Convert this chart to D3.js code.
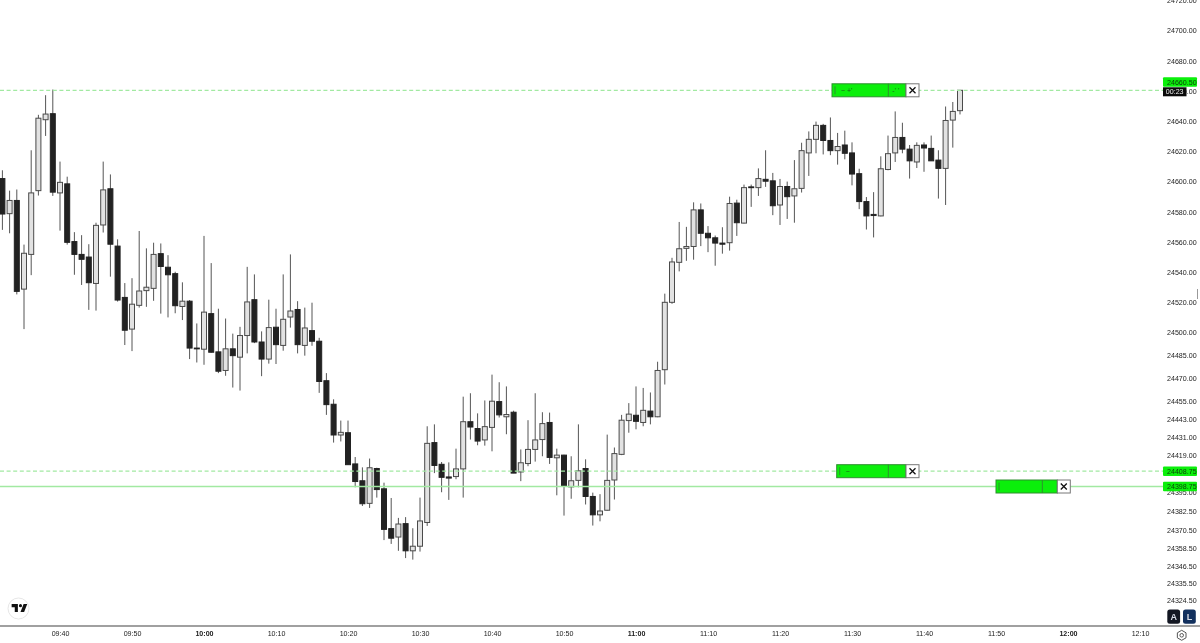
<!DOCTYPE html>
<html>
<head>
<meta charset="utf-8">
<title>Candles</title>
<script src="https://cdn.jsdelivr.net/npm/d3@7"></script>
<style>
    html, body { margin: 0; padding: 0; background: #fff; }
    /* the source is a soft screenshot */
    svg { display: block; filter: blur(0.3px); }
    text { font-family: "Liberation Sans", Arial, sans-serif; }
</style>
</head>
<body>
<div id="chart"></div>
<script>
// one minute candles, first one is 09:32
const firstCandle = "09:32";

const opens = [
    24602, 24578.75, 24587.5, 24528.75, 24551.75, 24594, 24641, 24645, 24592.5, 24598.5,
    24560.25, 24551.75, 24550, 24532.5, 24571.25, 24595.25, 24557.25, 24523.25, 24502.25, 24518,
    24527.75, 24529.25, 24552.25, 24543.25, 24539, 24517.25, 24520.75, 24489.75, 24489, 24512.5,
    24487.25, 24475, 24489.25, 24483.75, 24498, 24521.75, 24493.75, 24482.5, 24503.5, 24491.5,
    24510.25, 24515.25, 24491.5, 24501.25, 24494.25, 24468.25, 24452.75, 24432.5, 24434, 24413.5,
    24402.5, 24387.75, 24410.5, 24397.25, 24371.25, 24365.75, 24374.5, 24356.75, 24359.75, 24375.25,
    24427.5, 24413.25, 24405, 24405.25, 24410.25, 24441.25, 24436.75, 24429.25, 24437.5, 24454.5,
    24444.5, 24447.5, 24408.25, 24413.75, 24423, 24429.5, 24440.75, 24417.5, 24419.25, 24398.5,
    24402.75, 24410.5, 24392.25, 24380.25, 24383.25, 24403, 24419.75, 24442, 24445.5, 24440.75,
    24448.25, 24444.5, 24475.5, 24520, 24546.5, 24555.75, 24557, 24581.25, 24565.75, 24562.75,
    24559.25, 24559.5, 24585.75, 24572.5, 24596.5, 24596, 24601.5, 24600.5, 24584.5, 24596.75,
    24590.5, 24595.5, 24619, 24628, 24637.25, 24627.25, 24620.5, 24624.25, 24619, 24605.25,
    24586.75, 24578.25, 24577.25, 24608, 24619, 24629.25, 24621.5, 24613, 24624.25, 24622,
    24614.25, 24608.75, 24640.75, 24647
];
const highs = [
    24607.5, 24594, 24594.75, 24558.25, 24620.75, 24644.25, 24657.25, 24661, 24613.25, 24603.25,
    24566.5, 24564.5, 24558.5, 24572.75, 24613.25, 24604.75, 24561.75, 24532.75, 24536, 24567.25,
    24555.75, 24559.5, 24559, 24551.25, 24540.25, 24533.25, 24521.5, 24506, 24564, 24546,
    24515.75, 24509.25, 24499.25, 24503.75, 24543.5, 24538.5, 24500.75, 24521.75, 24515.75, 24538.5,
    24551.75, 24520.75, 24516.5, 24519.75, 24496.5, 24473.25, 24456, 24442, 24442, 24418,
    24411.25, 24417, 24411, 24401.25, 24391.25, 24378.25, 24378.75, 24371.5, 24391.5, 24438.25,
    24439.5, 24414.75, 24414.5, 24423.5, 24457.75, 24460, 24446.75, 24455.25, 24472.25, 24467.25,
    24464.5, 24448.5, 24423, 24442.25, 24460, 24447.5, 24447.25, 24423.5, 24419.5, 24418.5,
    24439.5, 24416.5, 24394.75, 24393.75, 24432.75, 24424.25, 24445.75, 24453.5, 24464.5, 24463.5,
    24460.5, 24480.75, 24525.75, 24549.5, 24573.25, 24570, 24586.25, 24585.5, 24570.5, 24564.25,
    24569.75, 24590, 24588, 24598, 24598, 24608.75, 24620.75, 24605.75, 24601.75, 24600,
    24614.25, 24625.75, 24633.25, 24639.75, 24638.25, 24642.5, 24632.25, 24633.75, 24626, 24608.5,
    24589.75, 24593, 24616.75, 24630.5, 24646.5, 24639, 24624.25, 24626, 24626, 24630.5,
    24620.75, 24649.75, 24652.75, 24660.5
];
const lows = [
    24568, 24565.75, 24525.25, 24502.25, 24538, 24590.75, 24630.25, 24590.5, 24567.5, 24558.25,
    24538.25, 24531.5, 24515, 24514.5, 24566.25, 24537, 24520.5, 24491.75, 24487.75, 24516.5,
    24517, 24521, 24512.5, 24510, 24512.75, 24508.25, 24482.5, 24480.25, 24478.75, 24486.75,
    24473.25, 24471.5, 24463.75, 24461.75, 24486.25, 24493, 24471.25, 24479.5, 24479.25, 24488,
    24503.25, 24486.25, 24484.75, 24491.25, 24460.25, 24445.75, 24427.5, 24428.25, 24413, 24398.25,
    24386, 24384.75, 24391.5, 24363.75, 24361.25, 24356.75, 24352, 24351, 24356.25, 24373,
    24407.5, 24395, 24390, 24403.5, 24391.5, 24429.5, 24425.75, 24425.5, 24421.75, 24444,
    24433, 24407.5, 24402.25, 24412, 24415, 24418.5, 24413.5, 24393, 24379.75, 24390.75,
    24398.25, 24387, 24373.25, 24376, 24383, 24390.25, 24419.25, 24434, 24436.25, 24438.25,
    24439.5, 24444.25, 24465.75, 24519, 24540.5, 24547.5, 24548.25, 24557.25, 24553.25, 24544.25,
    24552.25, 24554.25, 24564, 24572.25, 24583.25, 24590.5, 24596.5, 24577.75, 24571.25, 24575.25,
    24572.75, 24592.75, 24603.75, 24618.75, 24618, 24617.5, 24611.25, 24614.75, 24597.5, 24581.75,
    24568.25, 24563, 24577, 24607.5, 24613, 24618.75, 24602, 24609, 24606.5, 24613.75,
    24588.75, 24584.5, 24622.5, 24644.5
];
const closes = [
    24578.5, 24587.5, 24527.25, 24552.5, 24592.5, 24642, 24644.75, 24593, 24599.5, 24559.75,
    24551.75, 24548.5, 24533, 24571, 24594.5, 24558.5, 24521.5, 24501.5, 24518.75, 24527.5,
    24530, 24551.75, 24543.75, 24538.25, 24517.75, 24520.75, 24489.75, 24489.5, 24513.5, 24487,
    24474.5, 24489.25, 24484.75, 24498, 24520.25, 24493.75, 24482.5, 24503.25, 24492, 24508.75,
    24514.25, 24492, 24503, 24494.25, 24467.75, 24452.5, 24432.5, 24434.25, 24413, 24402,
    24387.5, 24411, 24396.75, 24370.75, 24365, 24374.25, 24356.75, 24359.75, 24376.25, 24427,
    24412.5, 24404.75, 24404.25, 24410.25, 24441.25, 24437.75, 24428.5, 24438, 24454.75, 24445.75,
    24446, 24407.5, 24414.25, 24423, 24429.25, 24440, 24417.75, 24419.25, 24398.75, 24402.5,
    24409, 24392.25, 24380.25, 24382.75, 24402.75, 24420.25, 24442.25, 24446.25, 24441.5, 24448.75,
    24444.5, 24475, 24520, 24546.75, 24555.5, 24557, 24581.25, 24565.75, 24562.75, 24559.25,
    24558.5, 24585.5, 24572.75, 24596, 24596, 24602, 24600.25, 24584, 24596.75, 24590,
    24595.25, 24620.5, 24628, 24637.25, 24627.25, 24620.5, 24623.25, 24618.75, 24605, 24586.75,
    24577.25, 24577.5, 24608.5, 24618.5, 24629.25, 24621.5, 24613.75, 24624, 24622.25, 24613.75,
    24608.75, 24640.5, 24646.5, 24660.5
];

const priceTicks = [24720, 24700, 24680, 24660, 24640, 24620, 24600, 24580, 24560, 24540, 24520, 24500,
    24485, 24470, 24455, 24443, 24431, 24419, 24395, 24382.5, 24370.5, 24358.5, 24346.5, 24335.5, 24324.5];
const timeTicks = ["09:40", "09:50", "10:00", "10:10", "10:20", "10:30", "10:40", "10:50",
    "11:00", "11:10", "11:20", "11:30", "11:40", "11:50", "12:00", "12:10"];
const priceLines = [24660.5, 24408.75, 24398.75];
const lineLabels = ["24660.50", "24408.75", "24398.75"];
const countdown = "00:23";

const width = 1200, height = 643;
const axisY = 626, axisX = 1163;
const GREEN = "#0bef0b", LINE_GREEN = "#a2e9a2", BORDER = "#2f8f2f";

const parseTime = d3.timeParse("%H:%M");
const data = opens.map((o, i) => ({
    time: d3.timeMinute.offset(parseTime(firstCandle), i),
    open: o, high: highs[i], low: lows[i], close: closes[i]
}));

const svg = d3.select("#chart").append("svg")
    .attr("width", width)
    .attr("height", height);

const xScale = d3.scaleTime()
    .domain([parseTime("09:40"), parseTime("12:10")])
    .range([60, 1140]);

// price axis is not quite even towards the bottom, hence the extra stops
const yScale = d3.scaleLinear()
    .domain([24720, 24500, 24419, 24324.5])
    .range([0.5, 332.5, 455.5, 600.2]);

// axes first, the price labels sit on top of them
const yAxis = d3.axisRight(yScale)
    .tickValues(priceTicks)
    .tickSize(0)
    .tickPadding(0)
    .tickFormat(d => d.toFixed(2));

const yG = svg.append("g")
    .attr("transform", "translate(1167,0)")
    .call(yAxis);
yG.select(".domain").remove();
yG.selectAll("text").attr("font-size", 7.1).attr("fill", "#222").attr("font-family", "Liberation Sans");

const xAxis = d3.axisBottom(xScale)
    .tickValues(timeTicks.map(parseTime))
    .tickSize(0)
    .tickPadding(5)
    .tickFormat(d3.timeFormat("%H:%M"));

const xG = svg.append("g")
    .attr("transform", `translate(0,${axisY})`)
    .call(xAxis);
xG.select(".domain").remove();
xG.selectAll("text")
    .attr("font-size", 7.1)
    .attr("fill", "#222")
    .attr("font-family", "Liberation Sans")
    .attr("font-weight", d => d.getMinutes() === 0 ? "bold" : "normal");

svg.append("line")
    .attr("x1", 0).attr("x2", width)
    .attr("y1", axisY).attr("y2", axisY)
    .attr("stroke", "#808080")
    .attr("stroke-width", 1.3);

// candles
const candleW = 5;
const candles = svg.selectAll(".candle")
    .data(data)
    .enter().append("g")
    .attr("class", "candle");

candles.append("line")
    .attr("x1", d => xScale(d.time))
    .attr("x2", d => xScale(d.time))
    .attr("y1", d => yScale(d.high))
    .attr("y2", d => yScale(d.low))
    .attr("stroke", "#555")
    .attr("stroke-width", 1);

candles.append("rect")
    .attr("x", d => xScale(d.time) - candleW / 2)
    .attr("y", d => yScale(Math.max(d.open, d.close)))
    .attr("width", candleW)
    .attr("height", d => Math.max(0.8, Math.abs(yScale(d.open) - yScale(d.close))))
    .attr("fill", d => d.close >= d.open ? "#e2e2e2" : "#222")
    .attr("stroke", d => d.close >= d.open ? "#4a4a4a" : "#222")
    .attr("stroke-width", 1);

// alert / price lines over the candles
svg.selectAll(".price-line")
    .data(priceLines)
    .enter().append("line")
    .attr("class", "price-line")
    .attr("x1", 0).attr("x2", axisX)
    .attr("y1", d => yScale(d))
    .attr("y2", d => yScale(d))
    .attr("stroke", LINE_GREEN)
    .attr("stroke-width", 1.3)
    .attr("stroke-dasharray", (d, i) => i === 2 ? null : "4,2.6");

// labels on the price axis
svg.selectAll(".line-label")
    .data(priceLines)
    .enter().append("rect")
    .attr("class", "line-label")
    .attr("x", axisX)
    .attr("y", (d, i) => i === 0 ? yScale(d) - 13 : yScale(d) - 4.7)
    .attr("width", 34)
    .attr("height", 9.5)
    .attr("rx", 1)
    .attr("fill", GREEN);

svg.selectAll(".line-text")
    .data(priceLines)
    .enter().append("text")
    .attr("class", "line-text")
    .attr("x", 1167)
    .attr("y", (d, i) => (i === 0 ? yScale(d) - 13 : yScale(d) - 4.7) + 7.3)
    .attr("font-size", 7.1)
    .attr("fill", "#0b3d0b")
    .text((d, i) => lineLabels[i]);

svg.append("rect")
    .attr("x", axisX).attr("y", yScale(priceLines[0]) - 3)
    .attr("width", 23.5).attr("height", 9)
    .attr("fill", "#0a0a0a");
svg.append("text")
    .attr("x", axisX + 11.7).attr("y", yScale(priceLines[0]) + 3.7)
    .attr("text-anchor", "middle")
    .attr("font-size", 7.1)
    .attr("fill", "#eee")
    .text(countdown);

// order widgets on the lines
const widgets = [
    { x0: 832, sep: 888.3, x1: 906, price: priceLines[0], glyph: "~ +'", tail: "-' '" },
    { x0: 836.7, sep: 888.3, x1: 906, price: priceLines[1], glyph: "~", tail: "" },
    { x0: 996, sep: 1042.3, x1: 1057.3, price: priceLines[2], glyph: "", tail: "" }
];

const widget = svg.selectAll(".widget")
    .data(widgets)
    .enter().append("g")
    .attr("class", "widget")
    .attr("transform", d => `translate(0,${yScale(d.price)})`);

widget.append("rect")
    .attr("x", d => d.x0).attr("y", -6.5)
    .attr("width", d => d.x1 - d.x0).attr("height", 13)
    .attr("fill", GREEN)
    .attr("stroke", BORDER);
widget.append("line")
    .attr("x1", d => d.sep).attr("x2", d => d.sep)
    .attr("y1", -6.5).attr("y2", 6.5)
    .attr("stroke", BORDER);
widget.append("line")
    .attr("x1", d => d.x0 + 3).attr("x2", d => d.x0 + 3)
    .attr("y1", -4).attr("y2", 4)
    .attr("stroke", BORDER);
widget.append("text")
    .attr("x", d => d.x0 + 9).attr("y", 2.5)
    .attr("font-size", 7).attr("fill", "#1b5e1b")
    .text(d => d.glyph);
widget.append("text")
    .attr("x", d => d.sep + 4).attr("y", 2.5)
    .attr("font-size", 7).attr("fill", "#1b5e1b")
    .text(d => d.tail);
widget.append("rect")
    .attr("x", d => d.x1).attr("y", -6.5)
    .attr("width", 13).attr("height", 13)
    .attr("fill", "#fff")
    .attr("stroke", "#777");
widget.append("path")
    .attr("d", d => `M${d.x1 + 3.5},-3L${d.x1 + 9.5},3M${d.x1 + 9.5},-3L${d.x1 + 3.5},3`)
    .attr("stroke", "#111")
    .attr("stroke-width", 1.3);

// TradingView badge
svg.append("circle")
    .attr("cx", 18.5).attr("cy", 608.5).attr("r", 10.5)
    .attr("fill", "#fff")
    .attr("stroke", "#e6e6e6");
svg.append("path")
    .attr("transform", "translate(10.6,601) scale(0.52)")
    .attr("d", "M14 6H2v6h6v9h6V6Zm12 15h-7l6-15h7l-6 15Zm-7-9a3 3 0 1 0 0-6 3 3 0 0 0 0 6Z")
    .attr("fill", "#111");

// little mark at the right edge of the price scale
svg.append("line")
    .attr("x1", 1197.5).attr("x2", 1197.5)
    .attr("y1", 289).attr("y2", 299)
    .attr("stroke", "#999");

// A / L buttons and the gear
const buttons = [
    { label: "A", x: 1167.3, fill: "#131722" },
    { label: "L", x: 1183, fill: "#12305e" }
];
const btn = svg.selectAll(".btn")
    .data(buttons)
    .enter().append("g")
    .attr("class", "btn");
btn.append("rect")
    .attr("x", d => d.x).attr("y", 609.5)
    .attr("width", 12.8).attr("height", 14.2)
    .attr("rx", 2.5)
    .attr("fill", d => d.fill);
btn.append("text")
    .attr("x", d => d.x + 6.4).attr("y", 620)
    .attr("text-anchor", "middle")
    .attr("font-size", 9)
    .attr("font-weight", "bold")
    .attr("fill", "#d8dce6")
    .text(d => d.label);

const gear = d3.range(6).map(i => {
    const a = Math.PI / 3 * i - Math.PI / 2;
    return [1181.7 + 5 * Math.cos(a), 635.3 + 5 * Math.sin(a)];
});
svg.append("path")
    .attr("d", d3.line().curve(d3.curveLinearClosed)(gear))
    .attr("fill", "none")
    .attr("stroke", "#555");
svg.append("circle")
    .attr("cx", 1181.7).attr("cy", 635.3).attr("r", 1.8)
    .attr("fill", "none")
    .attr("stroke", "#555");
</script>
</body>
</html>
